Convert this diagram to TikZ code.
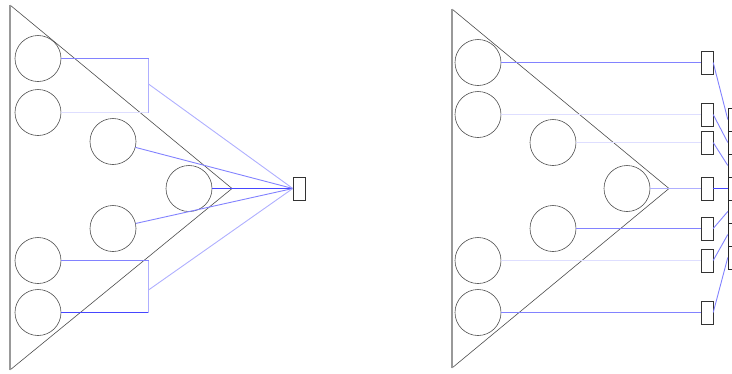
\documentclass[tikz,border=0pt]{standalone}
\usetikzlibrary{positioning}
\definecolor{wirestrong}{RGB}{70,70,255}
\definecolor{wiremid}{RGB}{130,130,255}
\definecolor{wirelight}{RGB}{175,175,255}
\definecolor{wirefaint}{RGB}{222,222,255}
\tikzset{
  neuron/.style={circle, draw=black!70, line width=0.6pt, minimum size=46pt, inner sep=0pt},
  port/.style={rectangle, draw=black!80, minimum width=12pt, minimum height=23pt, inner sep=0pt},
  cell/.style={rectangle, draw=black!85, minimum width=16pt, minimum height=23pt, inner sep=0pt},
  wire/.style={line width=0.9pt},
}
\begin{document}
\begin{tikzpicture}[x=1pt, y=-1pt]
                \useasboundingbox (0,0) rectangle (732,373);
                % left: pooled onto one output
                \draw[black!70, line width=0.6pt] (10,5) -- (232,188.5) -- (10,370);
                \draw[black!40, line width=1.2pt] (10,5) -- (10,370);
                \node[neuron] (la1) at (38,58.5) {};
                \node[neuron] (la2) at (38,112.5) {};
                \node[neuron] (la3) at (113,141.5) {};
                \node[neuron] (la4) at (189,188.5) {};
                \node[neuron] (la5) at (113,228.5) {};
                \node[neuron] (la6) at (38,260.5) {};
                \node[neuron] (la7) at (38,312.5) {};
                \node[port] (lout) at (299,188.5) {};
                \coordinate (lbt) at (148.5,58.5);
                \coordinate (lbb) at (148.5,112.5);
                \coordinate (lbm) at (148.5,84);
                \coordinate (lct) at (148.5,260.5);
                \coordinate (lcb) at (148.5,312.5);
                \coordinate (lcm) at (148.5,290);
                \draw[wire, wiremid] (la1) -- (lbt);
                \draw[wire, wirefaint] (la2) -- (lbb);
                \draw[wire, wirelight] (lbt) -- (lbb);
                \draw[wire, wirelight] (lbm) -- (lout.west);
                \draw[wire, wiremid] (la3) -- (lout.west);
                \draw[wire, wirestrong] (la4) -- (lout.west);
                \draw[wire, wiremid] (la5) -- (lout.west);
                \draw[wire, wiremid] (la6) -- (lct);
                \draw[wire, wirestrong] (la7) -- (lcb);
                \draw[wire, wirelight] (lct) -- (lcb);
                \draw[wire, wirelight] (lcm) -- (lout.west);
                % right: one output per neuron
                \draw[black!70, line width=0.6pt] (452,9) -- (669,188.5) -- (452,368);
                \draw[black!40, line width=1.2pt] (452,9) -- (452,368);
                \node[neuron] (ra1) at (478,62.5) {};
                \node[neuron] (ra2) at (478,114.5) {};
                \node[neuron] (ra3) at (553,142.5) {};
                \node[neuron] (ra4) at (627,188.5) {};
                \node[neuron] (ra5) at (553,228.5) {};
                \node[neuron] (ra6) at (478,260.5) {};
                \node[neuron] (ra7) at (478,312.5) {};
                \node[port] (rp1) at (707,62.5) {};
                \node[port] (rp2) at (707,114.5) {};
                \node[port] (rp3) at (707,142.5) {};
                \node[port] (rp4) at (707,188.5) {};
                \node[port] (rp5) at (707,228.5) {};
                \node[port] (rp6) at (707,260.5) {};
                \node[port] (rp7) at (707,312.5) {};
                \foreach \i in {1,...,7}
                    \node[cell] (rc\i) at (736,96.5+23*\i) {};
                \draw[wire, wiremid] (ra1) -- (rp1);
                \draw[wire, wirefaint] (ra2) -- (rp2);
                \draw[wire, wirefaint] (ra3) -- (rp3);
                \draw[wire, wirelight] (ra4) -- (rp4);
                \draw[wire, wiremid] (ra5) -- (rp5);
                \draw[wire, wirefaint] (ra6) -- (rp6);
                \draw[wire, wiremid] (ra7) -- (rp7);
                \foreach \i in {1,...,7}
                    \draw[wire, wiremid] (rp\i.east) -- (rc\i.west);
                \draw[wire, wirestrong] (rp4.east) -- (rc4.west);
            \end{tikzpicture}
\end{document}
